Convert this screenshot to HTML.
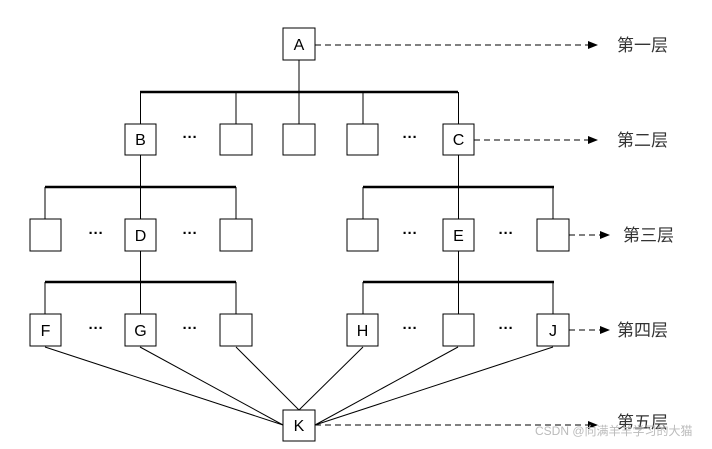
<!DOCTYPE html>
<html><head><meta charset="utf-8"><style>
body{margin:0;background:#fff;}
svg text{font-family:"Liberation Sans","Noto Sans CJK SC",sans-serif;}
</style></head><body>
<svg width="712" height="444" viewBox="0 0 712 444" xmlns="http://www.w3.org/2000/svg">
<defs><marker id="ar" markerWidth="10" markerHeight="8" refX="9" refY="4" orient="auto" markerUnits="userSpaceOnUse"><path d="M0,0 L10,4 L0,8 z" fill="#000"/></marker></defs>
<g stroke="#000" fill="none">
<line x1="299" y1="60" x2="299" y2="92"/>
<line x1="140" y1="92" x2="458" y2="92" stroke-width="2.5"/>
<line x1="140.5" y1="92" x2="140.5" y2="124"/><line x1="236" y1="92" x2="236" y2="124"/><line x1="299" y1="92" x2="299" y2="124"/><line x1="363" y1="92" x2="363" y2="124"/><line x1="458.5" y1="92" x2="458.5" y2="124"/>
<line x1="140.5" y1="155" x2="140.5" y2="219"/><line x1="458.5" y1="155" x2="458.5" y2="219"/>
<line x1="45" y1="187" x2="236" y2="187" stroke-width="2.5"/><line x1="363" y1="187" x2="554" y2="187" stroke-width="2.5"/>
<line x1="45" y1="187" x2="45" y2="219"/><line x1="236" y1="187" x2="236" y2="219"/><line x1="363" y1="187" x2="363" y2="219"/><line x1="553" y1="187" x2="553" y2="219"/>
<line x1="140.5" y1="251" x2="140.5" y2="314"/><line x1="458.5" y1="251" x2="458.5" y2="314"/>
<line x1="45" y1="282" x2="236" y2="282" stroke-width="2.5"/><line x1="363" y1="282" x2="554" y2="282" stroke-width="2.5"/>
<line x1="45" y1="282" x2="45" y2="314"/><line x1="236" y1="282" x2="236" y2="314"/><line x1="363" y1="282" x2="363" y2="314"/><line x1="553" y1="282" x2="553" y2="314"/>
<line x1="45" y1="347" x2="283" y2="425"/><line x1="140" y1="347" x2="283" y2="425"/><line x1="236" y1="347" x2="299" y2="410"/>
<line x1="363" y1="347" x2="299" y2="410"/><line x1="458" y1="347" x2="315" y2="425"/><line x1="553" y1="347" x2="315" y2="425"/>
<g stroke-dasharray="6,4" marker-end="url(#ar)">
<line x1="315" y1="45" x2="597" y2="45"/><line x1="474" y1="140" x2="597" y2="140"/><line x1="569" y1="235" x2="609" y2="235"/><line x1="569" y1="330" x2="609" y2="330"/><line x1="315" y1="425" x2="597" y2="425"/>
</g>
<g fill="#fff">
<rect x="283" y="28" width="32" height="32"/>
<rect x="125" y="124" width="31" height="31"/><rect x="220" y="124" width="32" height="31"/><rect x="283" y="124" width="32" height="31"/><rect x="347" y="124" width="31" height="31"/><rect x="443" y="124" width="31" height="31"/>
<rect x="30" y="219" width="31" height="32"/><rect x="125" y="219" width="31" height="32"/><rect x="220" y="219" width="32" height="32"/><rect x="347" y="219" width="31" height="32"/><rect x="443" y="219" width="31" height="32"/><rect x="537" y="219" width="32" height="32"/>
<rect x="30" y="314" width="31" height="32"/><rect x="125" y="314" width="31" height="32"/><rect x="220" y="314" width="32" height="32"/><rect x="347" y="314" width="31" height="32"/><rect x="443" y="314" width="31" height="32"/><rect x="537" y="314" width="32" height="32"/>
<rect x="283" y="410" width="32" height="31"/>
</g></g>
<g font-size="16" text-anchor="middle" fill="#000">
<text x="299" y="50">A</text><text x="140.5" y="145">B</text><text x="458.5" y="145">C</text>
<text x="140.5" y="241">D</text><text x="458.5" y="241">E</text>
<text x="45.5" y="336">F</text><text x="140.5" y="336">G</text><text x="362.5" y="336">H</text><text x="553" y="336">J</text>
<text x="299" y="431">K</text>
</g>
<g font-size="15" text-anchor="middle" font-weight="bold">
<text x="190" y="142">···</text><text x="410" y="142">···</text>
<text x="96" y="238">···</text><text x="190" y="238">···</text><text x="410" y="238">···</text><text x="506" y="238">···</text>
<text x="96" y="333">···</text><text x="190" y="333">···</text><text x="410" y="333">···</text><text x="506" y="333">···</text>
</g>
<g font-size="17" fill="#333" style="font-family:'Liberation Serif','Noto Serif CJK SC',serif">
<text x="617" y="51">第一层</text><text x="617" y="146">第二层</text><text x="623" y="241">第三层</text><text x="617" y="336">第四层</text><text x="617" y="428">第五层</text>
</g>
<text x="535" y="435" font-size="12" fill="#bbb">CSDN @向满羊羊学习的大猫</text>
</svg>
</body></html>
